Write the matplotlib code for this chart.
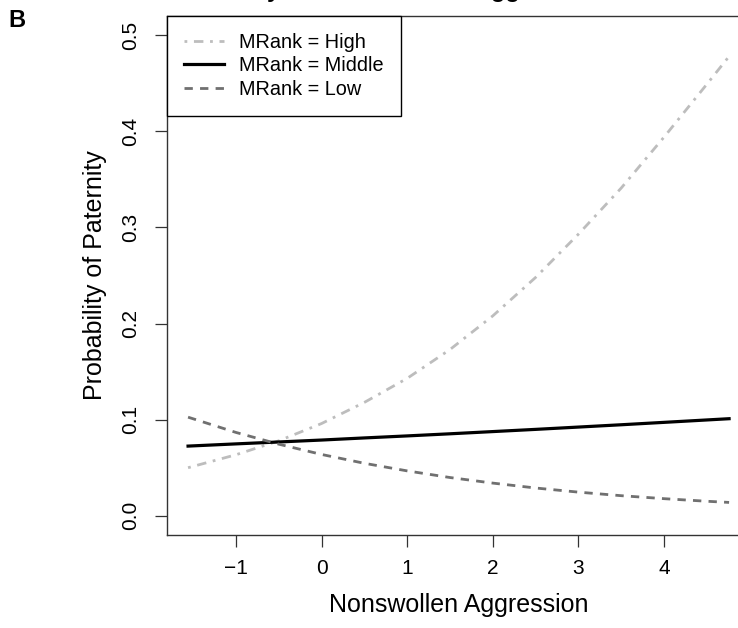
import matplotlib.pyplot as plt

# Valores (probabilidad de paternidad)
aggression = [-1.56, -1.0, -0.5, 0.0, 0.5, 1.0, 1.5, 2.0, 2.5, 3.0, 3.5, 4.0, 4.5, 4.76]
p_high = [0.050, 0.0635, 0.078, 0.096, 0.118, 0.143, 0.173, 0.208, 0.248, 0.293, 0.341, 0.394, 0.449, 0.478]
p_middle = [0.0725, 0.0748, 0.0768, 0.0788, 0.081, 0.0831, 0.0853, 0.0876, 0.0899, 0.0923, 0.0947, 0.0972, 0.0997, 0.101]
p_low = [0.1026, 0.0867, 0.0745, 0.0638, 0.0546, 0.0467, 0.0398, 0.034, 0.0289, 0.0246, 0.0209, 0.0178, 0.0151, 0.0139]

x_ticks = [-1, 0, 1, 2, 3, 4]
x_tick_labels = ["\u22121", "0", "1", "2", "3", "4"]
y_ticks = [0.0, 0.1, 0.2, 0.3, 0.4, 0.5]
y_tick_labels = ["0.0", "0.1", "0.2", "0.3", "0.4", "0.5"]

plt.rcParams.update({
    "font.family": ["Liberation Sans", "DejaVu Sans"],
    "axes.edgecolor": "#333333",
    "axes.linewidth": 1.0,
})

fig = plt.figure(figsize=(7.38, 6.28), dpi=100)
ax = fig.add_axes([167 / 738, 93 / 628, 584 / 738, 519 / 628])

ax.plot(aggression, p_high, color="#BDBDBD", lw=2.0, dashes=(1, 2.4, 3.4, 2.4),
        label="MRank = High")
ax.plot(aggression, p_middle, color="black", lw=2.3, label="MRank = Middle")
ax.plot(aggression, p_low, color="#707070", lw=2.0, dashes=(3.0, 2.6), label="MRank = Low")

ax.set_xlim(-1.806, 5.016)
ax.set_ylim(-0.02, 0.52)

ax.set_xticks(x_ticks)
ax.set_xticklabels(x_tick_labels)
ax.set_yticks(y_ticks)
ax.set_yticklabels(y_tick_labels, rotation=90, va="center")
ax.tick_params(axis="both", direction="out", length=8.5, width=0.9, color="#333333",
               labelsize=15, pad=9)
ax.tick_params(axis="y", pad=11)

ax.set_xlabel("Nonswollen Aggression", fontsize=18)
ax.set_ylabel("Probability of Paternity", fontsize=18)
ax.xaxis.set_label_coords(0.5, -0.112)
ax.yaxis.set_label_coords(-0.103, 0.5)

leg = ax.legend(loc="upper left", bbox_to_anchor=(0, 1), borderaxespad=0,
                fontsize=14.3, fancybox=False, framealpha=1, edgecolor="black",
                handlelength=2.0, handletextpad=0.8, borderpad=0.85, labelspacing=0.22)
leg.get_frame().set_linewidth(1.0)

# Título recortado arriba (solo asoman los trazos descendentes)
fig.text(0.53, 1.004, "Paternity and Nonswollen Aggression", fontsize=17,
         fontweight="bold", ha="center", va="baseline")

# Etiqueta del panel
fig.text(0.011, 0.985, "B", fontsize=17, fontweight="bold", ha="left", va="top")

plt.savefig("out.png", dpi=100)
